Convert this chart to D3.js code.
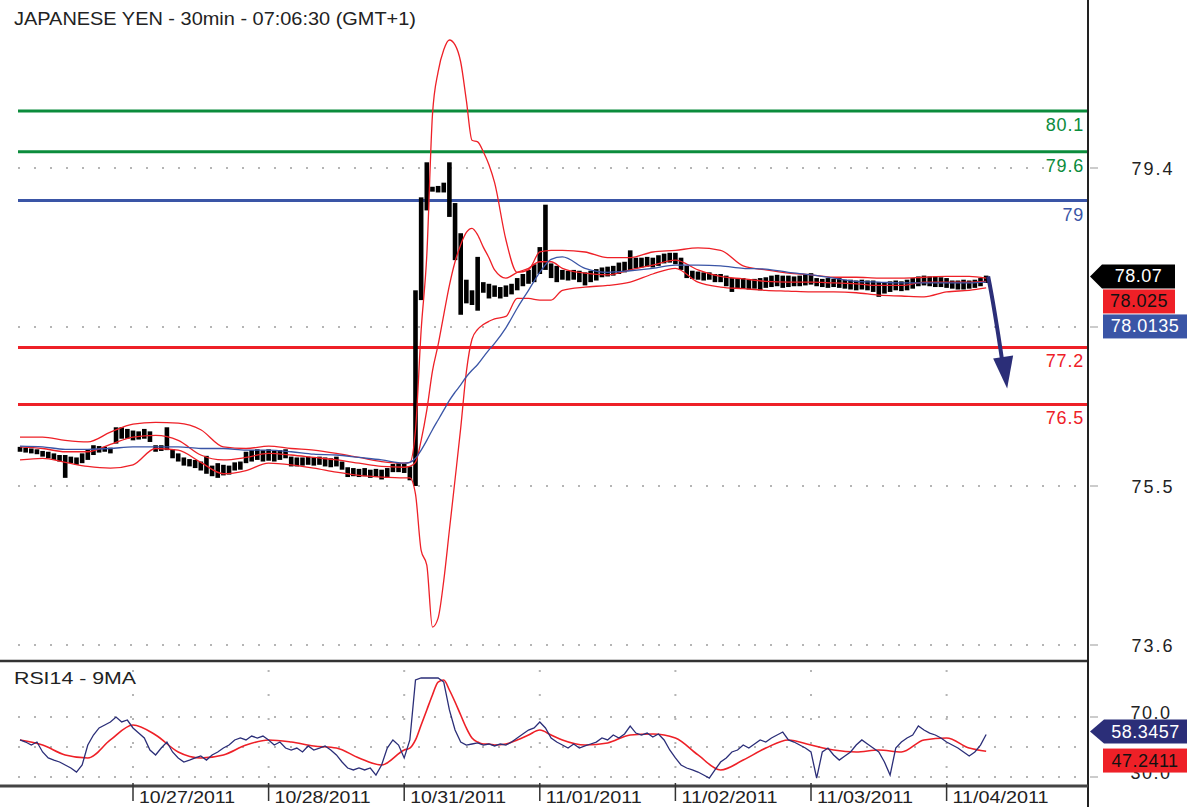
<!DOCTYPE html>
<html lang="en">
<head>
<meta charset="utf-8">
<title>Japanese Yen 30min</title>
<script src="https://d3js.org/d3.v7.min.js"></script>
<style>
  body { margin: 0; background: #fff; }
  svg { display: block; font-family: "Liberation Sans", Arial, sans-serif; }
</style>
</head>
<body>
<div id="chart"></div>
<script>
// ---- data (hourly bars, index 0 = 10/26 04:00) ----
var dayIdx = [20, 44, 68, 92, 116, 140, 164];
var dayLabels = ["10/27/2011", "10/28/2011", "10/31/2011", "11/01/2011", "11/02/2011", "11/03/2011", "11/04/2011"];

var highs = [
  75.98, 75.97, 75.96, 75.95, 75.93, 75.92, 75.90, 75.88, 75.88, 75.86,
  75.85, 75.90, 75.95, 76.00, 75.99, 75.98, 75.97, 76.22, 76.22, 76.20,
  76.18, 76.17, 76.20, 76.17, 76.00, 76.00, 76.22, 75.95, 75.90, 75.85,
  75.83, 75.82, 75.80, 75.87, 75.75, 75.78, 75.76, 75.75, 75.79, 75.80,
  75.92, 75.94, 75.95, 75.94, 75.95, 75.93, 75.94, 75.95, 75.86, 75.85,
  75.85, 75.86, 75.85, 75.86, 75.85, 75.84, 75.86, 75.80, 75.73, 75.72,
  75.71, 75.72, 75.70, 75.71, 75.70, 75.72, 75.77, 75.78, 75.77, 75.74,
  77.90, 79.04, 79.47, 79.17, 79.18, 79.22, 79.47, 78.97, 78.60, 78.03,
  77.90, 78.31, 78.00, 77.98, 77.96, 77.94, 77.96, 77.98, 78.05, 78.10,
  78.15, 78.22, 78.43, 78.95, 78.23, 78.20, 78.15, 78.14, 78.15, 78.14,
  78.12, 78.14, 78.16, 78.18, 78.19, 78.20, 78.24, 78.25, 78.39, 78.30,
  78.30, 78.31, 78.30, 78.33, 78.35, 78.36, 78.36, 78.30, 78.20, 78.14,
  78.13, 78.12, 78.12, 78.10, 78.10, 78.08, 78.05, 78.04, 78.05, 78.03,
  78.04, 78.05, 78.06, 78.08, 78.09, 78.08, 78.08, 78.07, 78.08, 78.10,
  78.11, 78.05, 78.04, 78.05, 78.04, 78.05, 78.03, 78.03, 78.02, 78.03,
  78.02, 78.02, 78.00, 78.00, 78.01, 78.02, 78.01, 78.03, 78.05, 78.07,
  78.08, 78.07, 78.07, 78.06, 78.05, 78.02, 78.02, 78.03, 78.02, 78.03,
  78.05, 78.08
];
var lows = [
  75.92, 75.91, 75.90, 75.89, 75.86, 75.84, 75.82, 75.80, 75.60, 75.78,
  75.76, 75.78, 75.82, 75.88, 75.91, 75.92, 75.90, 76.02, 76.08, 76.08,
  76.06, 76.07, 76.08, 76.04, 75.92, 75.93, 75.94, 75.84, 75.80, 75.75,
  75.74, 75.72, 75.69, 75.65, 75.62, 75.60, 75.63, 75.64, 75.69, 75.70,
  75.78, 75.80, 75.82, 75.80, 75.81, 75.80, 75.82, 75.84, 75.74, 75.74,
  75.75, 75.76, 75.75, 75.76, 75.74, 75.73, 75.74, 75.70, 75.61, 75.62,
  75.61, 75.62, 75.60, 75.61, 75.58, 75.60, 75.67, 75.67, 75.66, 75.57,
  75.50, 77.78, 78.88, 79.11, 79.10, 79.10, 78.80, 78.27, 77.60, 77.74,
  77.72, 77.65, 77.87, 77.80, 77.82, 77.80, 77.82, 77.85, 77.90, 77.95,
  77.98, 78.00, 78.10, 78.15, 78.05, 78.00, 78.03, 78.02, 78.03, 78.00,
  77.96, 78.00, 78.02, 78.06, 78.07, 78.08, 78.10, 78.12, 78.15, 78.17,
  78.18, 78.19, 78.18, 78.20, 78.23, 78.24, 78.22, 78.15, 78.05, 78.04,
  78.03, 78.02, 78.03, 78.00, 78.00, 77.95, 77.88, 77.92, 77.92, 77.91,
  77.92, 77.90, 77.93, 77.94, 77.95, 77.93, 77.94, 77.95, 77.95, 77.96,
  77.97, 77.95, 77.94, 77.93, 77.94, 77.93, 77.92, 77.91, 77.90, 77.91,
  77.90, 77.88, 77.82, 77.86, 77.88, 77.90, 77.89, 77.90, 77.92, 77.95,
  77.96, 77.95, 77.94, 77.94, 77.93, 77.92, 77.91, 77.91, 77.92, 77.93,
  77.95, 77.99
];
var lastPrice = 78.07;

// indicator samples (bar index -> value)
var bandIdx = [0, 4, 8, 12, 16, 20, 24, 28, 32, 36, 40, 44, 48, 52, 56, 60, 64, 68, 69,
  70, 71, 72, 73, 74, 75, 76, 77, 78, 79, 80, 81, 82, 83, 84, 86, 88, 90, 92, 94, 96,
  100, 104, 108, 112, 116, 120, 124, 128, 132, 136, 140, 144, 148, 152, 156, 160, 164, 168, 171];
var bandUpper = [76.10, 76.10, 76.06, 76.04, 76.16, 76.26, 76.28, 76.27, 76.19, 75.98,
  75.96, 75.99, 75.96, 75.94, 75.90, 75.85, 75.80, 75.78, 75.79,
  76.19, 77.41, 78.33, 80.05, 80.58, 80.85, 80.97, 80.91, 80.70, 80.23, 79.74, 79.72, 79.60,
  79.44, 79.22, 78.52, 78.12, 78.15, 78.37, 78.39, 78.39,
  78.37, 78.30, 78.30, 78.37, 78.39, 78.42, 78.39, 78.20, 78.15, 78.11, 78.09, 78.06, 78.06,
  78.05, 78.05, 78.06, 78.07, 78.07, 78.05];
var bandMid = [75.98, 75.96, 75.92, 75.92, 76.01, 76.10, 76.12, 76.06, 75.88, 75.82,
  75.85, 75.90, 75.88, 75.85, 75.82, 75.78, 75.74, 75.73, 75.74,
  75.79, 76.06, 76.43, 76.91, 77.23, 77.60, 77.96, 78.25, 78.46, 78.61, 78.66, 78.58, 78.43,
  78.30, 78.15, 78.05, 78.12, 78.17, 78.25, 78.25, 78.17,
  78.11, 78.09, 78.15, 78.21, 78.27, 78.15, 78.07, 78.04, 78.01, 78.00, 78.00, 77.99, 77.98,
  77.96, 77.96, 78.00, 78.00, 78.00, 78.01];
var bandLower = [75.82, 75.84, 75.79, 75.74, 75.72, 75.76, 75.96, 75.94, 75.79, 75.65,
  75.69, 75.78, 75.76, 75.72, 75.67, 75.63, 75.61, 75.60, 75.60,
  75.40, 74.71, 74.53, 73.77, 73.88, 74.34, 74.96, 75.58, 76.21, 76.90, 77.30, 77.42, 77.48,
  77.52, 77.55, 77.58, 77.80, 77.80, 77.78, 77.78, 77.90,
  77.94, 77.96, 78.00, 78.10, 78.17, 78.00, 77.94, 77.92, 77.90, 77.89, 77.88, 77.88, 77.87,
  77.84, 77.83, 77.82, 77.88, 77.90, 77.93];
var maBlue = [75.99, 75.98, 75.95, 75.95, 75.96, 75.98, 75.98, 75.98, 75.96, 75.96,
  75.94, 75.94, 75.92, 75.89, 75.88, 75.85, 75.82, 75.78, 75.79,
  75.84, 75.94, 76.06, 76.19, 76.31, 76.43, 76.55, 76.65, 76.74, 76.84, 76.92, 76.99, 77.08,
  77.17, 77.25, 77.44, 77.68, 77.90, 78.12, 78.28, 78.31,
  78.17, 78.12, 78.14, 78.17, 78.21, 78.21, 78.20, 78.17, 78.16, 78.12, 78.09, 78.05, 78.01,
  78.00, 77.99, 77.99, 77.99, 77.99, 78.00];

var levels = [80.1, 79.6, 79, 77.2, 76.5];
var levelLabels = ["80.1", "79.6", "79", "77.2", "76.5"];

var priceTicks = [79.4, 77.45, 75.5, 73.55];
var priceTickLabels = ["79.4", "", "75.5", "73.6"];  // 77.45 label sits under the value boxes
var priceBoxes = ["78.07", "78.025", "78.0135"];

var rsi = [
  54.7, 53.3, 51.3, 53.3, 46.7, 42.7, 41.3, 40.0, 38.0, 36.0,
  33.3, 38.0, 51.3, 58.0, 62.7, 64.7, 66.7, 70.0, 66.7, 68.0,
  62.7, 59.3, 56.0, 48.0, 44.7, 49.3, 53.3, 46.7, 42.7, 40.0,
  41.3, 42.7, 44.0, 41.3, 44.7, 46.7, 49.3, 51.3, 54.7, 56.0,
  54.7, 57.3, 56.0, 57.3, 54.7, 51.3, 53.3, 49.3, 48.0, 49.3,
  46.7, 50.7, 48.0, 49.3, 50.7, 48.0, 44.7, 40.0, 36.0, 34.7,
  36.0, 34.7, 36.0, 31.3, 38.0, 49.3, 54.7, 51.3, 42.7, 54.7,
  94.7, 96.0, 96.0, 96.0, 96.0, 93.3, 74.7, 61.3, 53.3, 51.3,
  52.0, 52.7, 51.3, 52.0, 50.7, 52.0, 51.3, 53.3, 56.0, 58.7,
  61.3, 62.7, 66.7, 62.7, 56.0, 53.3, 51.3, 49.3, 52.0, 49.3,
  50.7, 52.0, 53.3, 56.0, 54.7, 58.0, 56.0, 58.7, 64.0, 59.3,
  58.0, 59.3, 56.7, 58.7, 54.7, 48.0, 42.7, 38.0, 36.0, 34.7,
  33.3, 31.3, 29.3, 34.7, 40.0, 42.7, 46.7, 48.0, 51.3, 49.3,
  52.0, 54.7, 53.3, 56.0, 58.0, 60.0, 54.7, 53.3, 51.3, 49.3,
  46.7, 29.3, 46.7, 49.3, 44.7, 41.3, 44.0, 46.7, 51.3, 54.7,
  52.0, 49.3, 46.7, 40.0, 31.3, 49.3, 53.3, 56.0, 58.0, 64.0,
  61.3, 59.3, 58.0, 56.0, 53.3, 51.3, 49.3, 46.7, 44.0, 46.7,
  51.3, 58.3
];
var rsiMA = [54.7, 51.3, 44.7, 42.7, 54.7, 64.7, 58.0, 46.7, 42.7, 44.7,
  51.3, 54.7, 53.3, 50.7, 49.3, 42.7, 38.0, 48.0, 49.3,
  54.7, 64.7, 74.7, 84.7, 93.3, 94.7, 88.0, 80.0, 71.3, 62.7, 56.0, 53.3, 52.0,
  52.0, 51.3, 52.0, 54.7, 58.0, 61.3, 58.0, 54.7,
  51.3, 52.7, 58.0, 58.7, 56.0, 44.7, 34.7, 41.3, 49.3, 54.7, 51.3, 48.0, 46.7,
  48.0, 46.7, 54.7, 56.0, 49.3, 47.2];
var rsiTicks = [70, 30];
var rsiTickLabels = ["70.0", "30.0"];
var rsiGrid = [70, 50, 30];
var rsiBoxes = ["58.3457", "47.2411"];

// ---- layout ----
var W = 1187, H = 807;
var axisX = 1088;
var svg = d3.select("#chart").append("svg").attr("width", W).attr("height", H);
svg.append("rect").attr("width", W).attr("height", H).attr("fill", "#fff");

var x = d3.scaleLinear().domain([20, 164]).range([133, 946.6]);
var y = d3.scaleLinear().domain([75.5, 79.4]).range([486, 168]);
var ry = d3.scaleLinear().domain([30, 70]).range([777, 717]);

var RED = "#ee2027", GREEN = "#0b8c3c", BLUE = "#3a55a6", NAVY = "#2b2e78";
var levelColors = [GREEN, GREEN, BLUE, RED, RED];

var pricePanel = svg.append("g");
var rsiPanel = svg.append("g");

var defs = svg.append("defs");
defs.append("clipPath").attr("id", "priceClip")
  .append("rect").attr("x", 0).attr("y", 0).attr("width", axisX).attr("height", 659);
defs.append("clipPath").attr("id", "rsiClip")
  .append("rect").attr("x", 0).attr("y", 663).attr("width", axisX).attr("height", 122);

// dotted grid in price panel
pricePanel.selectAll(".pgrid").data(priceTicks).enter().append("line")
  .attr("x1", 18).attr("x2", axisX)
  .attr("y1", function(d) { return y(d); }).attr("y2", function(d) { return y(d); })
  .attr("stroke", "#b5b5b5").attr("stroke-width", 2).attr("stroke-dasharray", "2,14");

// level lines
pricePanel.selectAll(".level").data(levels).enter().append("line")
  .attr("x1", 18).attr("x2", axisX)
  .attr("y1", function(d) { return y(d); }).attr("y2", function(d) { return y(d); })
  .attr("stroke", function(d, i) { return levelColors[i]; }).attr("stroke-width", 3);
pricePanel.selectAll(".levelLabel").data(levels).enter().append("text")
  .attr("x", axisX - 4).attr("y", function(d) { return y(d) + 20; })
  .attr("text-anchor", "end").attr("font-size", 18).attr("letter-spacing", 0.8)
  .attr("fill", function(d, i) { return levelColors[i]; })
  .text(function(d, i) { return levelLabels[i]; });

// bars
var pc = pricePanel.append("g").attr("clip-path", "url(#priceClip)");
pc.selectAll(".bar").data(highs).enter().append("rect")
  .attr("x", function(d, i) { return x(i) - 2.3; })
  .attr("width", 4.6)
  .attr("y", function(d) { return y(d); })
  .attr("height", function(d, i) { return Math.max(2, y(lows[i]) - y(d)); })
  .attr("fill", "#000");

// bands and moving average
function bandLine(vals, scale) {
  return d3.line()
    .x(function(d, i) { return x(bandIdx[i]); })
    .y(function(d) { return scale(d); })
    .curve(d3.curveMonotoneX)(vals);
}
[bandUpper, bandMid, bandLower].forEach(function(v) {
  pc.append("path").attr("d", bandLine(v, y)).attr("fill", "none")
    .attr("stroke", RED).attr("stroke-width", 1.3);
});
pc.append("path").attr("d", bandLine(maBlue, y)).attr("fill", "none")
  .attr("stroke", BLUE).attr("stroke-width", 1.3);

// forecast arrow
var ax0 = x(highs.length - 1) + 2, ay0 = y(lastPrice);
pricePanel.append("path")
  .attr("d", "M" + ax0 + "," + ay0 + " Q" + (ax0 + 6) + "," + (ay0 + 30) + " " + (ax0 + 14) + "," + (ay0 + 84))
  .attr("fill", "none").attr("stroke", NAVY).attr("stroke-width", 4);
pricePanel.append("path")
  .attr("d", "M" + (ax0 + 5) + "," + (ay0 + 82) + " L" + (ax0 + 25) + "," + (ay0 + 79) + " L" + (ax0 + 19) + "," + (ay0 + 112) + " Z")
  .attr("fill", NAVY);

// title
svg.append("text").attr("x", 14).attr("y", 25).attr("font-size", 18).attr("fill", "#222")
  .attr("textLength", 402).attr("lengthAdjust", "spacingAndGlyphs")
  .text("JAPANESE YEN - 30min - 07:06:30 (GMT+1)");

// panel separator
svg.append("line").attr("x1", 0).attr("x2", axisX).attr("y1", 661).attr("y2", 661)
  .attr("stroke", "#333").attr("stroke-width", 2.5);

// ---- RSI panel ----
rsiPanel.selectAll(".rgrid").data(rsiGrid).enter().append("line")
  .attr("x1", 18).attr("x2", axisX)
  .attr("y1", function(d) { return ry(d); }).attr("y2", function(d) { return ry(d); })
  .attr("stroke", "#b5b5b5").attr("stroke-width", 2).attr("stroke-dasharray", "2,14");
rsiPanel.selectAll(".vgrid").data(dayIdx).enter().append("line")
  .attr("x1", function(d) { return x(d); }).attr("x2", function(d) { return x(d); })
  .attr("y1", 670).attr("y2", 785)
  .attr("stroke", "#b5b5b5").attr("stroke-width", 2).attr("stroke-dasharray", "2,22");

var rc = rsiPanel.append("g").attr("clip-path", "url(#rsiClip)");
rc.append("path")
  .attr("d", d3.line().x(function(d, i) { return x(bandIdx[i]); }).y(function(d) { return ry(d); })
    .curve(d3.curveMonotoneX)(rsiMA))
  .attr("fill", "none").attr("stroke", RED).attr("stroke-width", 1.6);
rc.append("path")
  .attr("d", d3.line().x(function(d, i) { return x(i); }).y(function(d) { return ry(d); })(rsi))
  .attr("fill", "none").attr("stroke", NAVY).attr("stroke-width", 1.3);

svg.append("text").attr("x", 14).attr("y", 684).attr("font-size", 17).attr("fill", "#222")
  .attr("textLength", 122).attr("lengthAdjust", "spacingAndGlyphs")
  .text("RSI14 - 9MA");

// ---- axes ----
svg.append("line").attr("x1", axisX).attr("x2", axisX).attr("y1", 0).attr("y2", H)
  .attr("stroke", "#222").attr("stroke-width", 2);

svg.append("line").attr("x1", 0).attr("x2", axisX).attr("y1", 786).attr("y2", 786)
  .attr("stroke", "#444").attr("stroke-width", 3);
svg.selectAll(".xtick").data(dayIdx).enter().append("line")
  .attr("x1", function(d) { return x(d); }).attr("x2", function(d) { return x(d); })
  .attr("y1", 783).attr("y2", 801).attr("stroke", "#333").attr("stroke-width", 1.5);
svg.selectAll(".xlab").data(dayIdx).enter().append("text")
  .attr("x", function(d) { return x(d) + 6; }).attr("y", 803)
  .attr("font-size", 17).attr("fill", "#222")
  .attr("textLength", 96).attr("lengthAdjust", "spacingAndGlyphs")
  .text(function(d, i) { return dayLabels[i]; });

// right price axis
svg.selectAll(".ptick").data(priceTicks).enter().append("line")
  .attr("x1", axisX + 2).attr("x2", axisX + 10)
  .attr("y1", function(d) { return y(d); }).attr("y2", function(d) { return y(d); })
  .attr("stroke", "#999").attr("stroke-width", 1);
svg.selectAll(".plab").data(priceTicks).enter().append("text")
  .attr("x", 1153).attr("y", function(d) { return y(d) + 7; })
  .attr("text-anchor", "middle").attr("font-size", 18).attr("fill", "#222")
  .attr("letter-spacing", 2)
  .text(function(d, i) { return priceTickLabels[i]; });

// RSI axis
svg.selectAll(".rtick").data(rsiTicks).enter().append("line")
  .attr("x1", axisX + 2).attr("x2", axisX + 10)
  .attr("y1", function(d) { return ry(d); }).attr("y2", function(d) { return ry(d); })
  .attr("stroke", "#999").attr("stroke-width", 1);
svg.selectAll(".rlab").data(rsiTicks).enter().append("text")
  .attr("x", 1151).attr("y", function(d) { return ry(d) + 2; })
  .attr("text-anchor", "middle").attr("font-size", 18).attr("fill", "#222")
  .attr("letter-spacing", 1.5)
  .text(function(d, i) { return rsiTickLabels[i]; });

// value boxes
function valueBox(top, text, fill, color, arrow, left, right) {
  var g = svg.append("g");
  var h = 24;
  if (arrow) {
    g.append("path")
      .attr("d", "M" + (axisX + 2) + "," + (top + h / 2) + " L" + left + "," + top + " L" + right + "," + top +
        " L" + right + "," + (top + h) + " L" + left + "," + (top + h) + " Z")
      .attr("fill", fill);
  } else {
    g.append("rect").attr("x", left).attr("y", top).attr("width", right - left).attr("height", h).attr("fill", fill);
  }
  g.append("text").attr("x", (left + right) / 2).attr("y", top + 18)
    .attr("text-anchor", "middle").attr("font-size", 18).attr("fill", color)
    .attr("letter-spacing", 0.5).text(text);
}
var pTop = y(lastPrice) - 12;
valueBox(pTop, priceBoxes[0], "#000", "#fff", true, 1102, 1175);
valueBox(pTop + 25, priceBoxes[1], RED, "#111", false, 1103, 1175);
valueBox(pTop + 50, priceBoxes[2], BLUE, "#fff", false, 1103, 1187);

var rTop = ry(rsi[rsi.length - 1]) - 15;
valueBox(rTop, rsiBoxes[0], NAVY, "#fff", true, 1104, 1187);
valueBox(rTop + 29, rsiBoxes[1], RED, "#111", false, 1103, 1187);
</script>
</body>
</html>
